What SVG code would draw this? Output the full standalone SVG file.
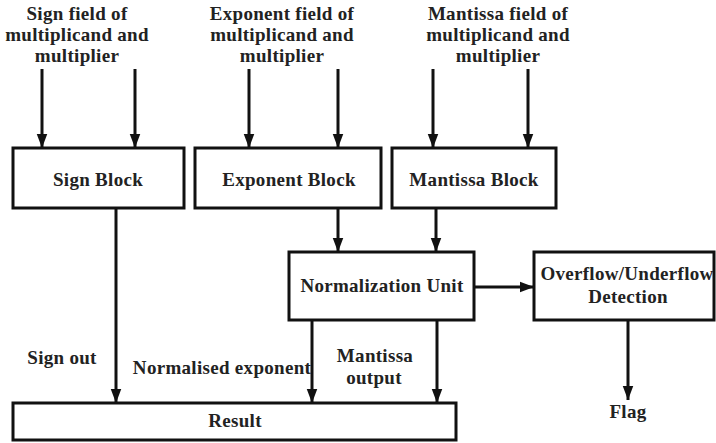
<svg xmlns="http://www.w3.org/2000/svg" width="716" height="443" viewBox="0 0 716 443">
<style>
.box{fill:#fff;stroke:#111;stroke-width:3}
.ln{stroke:#111;stroke-width:3;fill:none}
.t{font-family:'Liberation Serif','Times New Roman','DejaVu Serif',serif;font-weight:700;font-size:19px;letter-spacing:0.3px;fill:#222;text-anchor:middle}
</style>
<defs>
<marker id="ah" markerUnits="userSpaceOnUse" markerWidth="14" markerHeight="14" viewBox="0 0 16 12" refX="16" refY="6" orient="auto">
<path d="M0,0 L16,6 L0,12 Z" fill="#111"/>
</marker>
</defs>
<rect width="716" height="443" fill="#fff"/>
<g id="labels-top" class="t">
<text x="77" y="20">Sign field of</text>
<text x="77" y="41">multiplicand and</text>
<text x="77" y="62">multiplier</text>
<text x="282" y="20">Exponent field of</text>
<text x="282" y="41">multiplicand and</text>
<text x="282" y="62">multiplier</text>
<text x="498" y="20">Mantissa field of</text>
<text x="498" y="41">multiplicand and</text>
<text x="498" y="62">multiplier</text>
</g>
<g id="connectors">
<line class="ln" x1="42" y1="69" x2="42" y2="148" marker-end="url(#ah)"/>
<line class="ln" x1="135" y1="69" x2="135" y2="148" marker-end="url(#ah)"/>
<line class="ln" x1="249" y1="69" x2="249" y2="148" marker-end="url(#ah)"/>
<line class="ln" x1="338" y1="69" x2="338" y2="148" marker-end="url(#ah)"/>
<line class="ln" x1="433" y1="69" x2="433" y2="148" marker-end="url(#ah)"/>
<line class="ln" x1="528" y1="69" x2="528" y2="148" marker-end="url(#ah)"/>
<line class="ln" x1="116" y1="208" x2="116" y2="403" marker-end="url(#ah)"/>
<line class="ln" x1="338" y1="208" x2="338" y2="252" marker-end="url(#ah)"/>
<line class="ln" x1="436" y1="208" x2="436" y2="252" marker-end="url(#ah)"/>
<line class="ln" x1="312" y1="320" x2="312" y2="403" marker-end="url(#ah)"/>
<line class="ln" x1="437" y1="320" x2="437" y2="403" marker-end="url(#ah)"/>
<line class="ln" x1="474" y1="287" x2="534" y2="287" marker-end="url(#ah)"/>
<line class="ln" x1="628" y1="320" x2="628" y2="400" marker-end="url(#ah)"/>
</g>
<g id="sign-block">
<rect class="box" x="13" y="148" width="171" height="60"/>
<text class="t" x="98" y="186">Sign Block</text>
</g>
<g id="exponent-block">
<rect class="box" x="195" y="148" width="186" height="60"/>
<text class="t" x="289" y="186">Exponent Block</text>
</g>
<g id="mantissa-block">
<rect class="box" x="392" y="148" width="164" height="60"/>
<text class="t" x="474" y="186">Mantissa Block</text>
</g>
<g id="normalization-unit">
<rect class="box" x="289" y="252" width="185" height="68"/>
<text class="t" x="382" y="292">Normalization Unit</text>
</g>
<g id="overflow-detection">
<rect class="box" x="534" y="252" width="180" height="68"/>
<text class="t" x="627" y="280">Overflow/Underflow</text>
<text class="t" x="628" y="303">Detection</text>
</g>
<g id="result">
<rect class="box" x="13" y="403" width="443" height="37"/>
<text class="t" x="235" y="427">Result</text>
</g>
<g id="labels-bottom" class="t">
<text x="62" y="364">Sign out</text>
<text x="222" y="374">Normalised exponent</text>
<text x="375" y="362">Mantissa</text>
<text x="374" y="384">output</text>
<text x="628" y="418">Flag</text>
</g>
</svg>
